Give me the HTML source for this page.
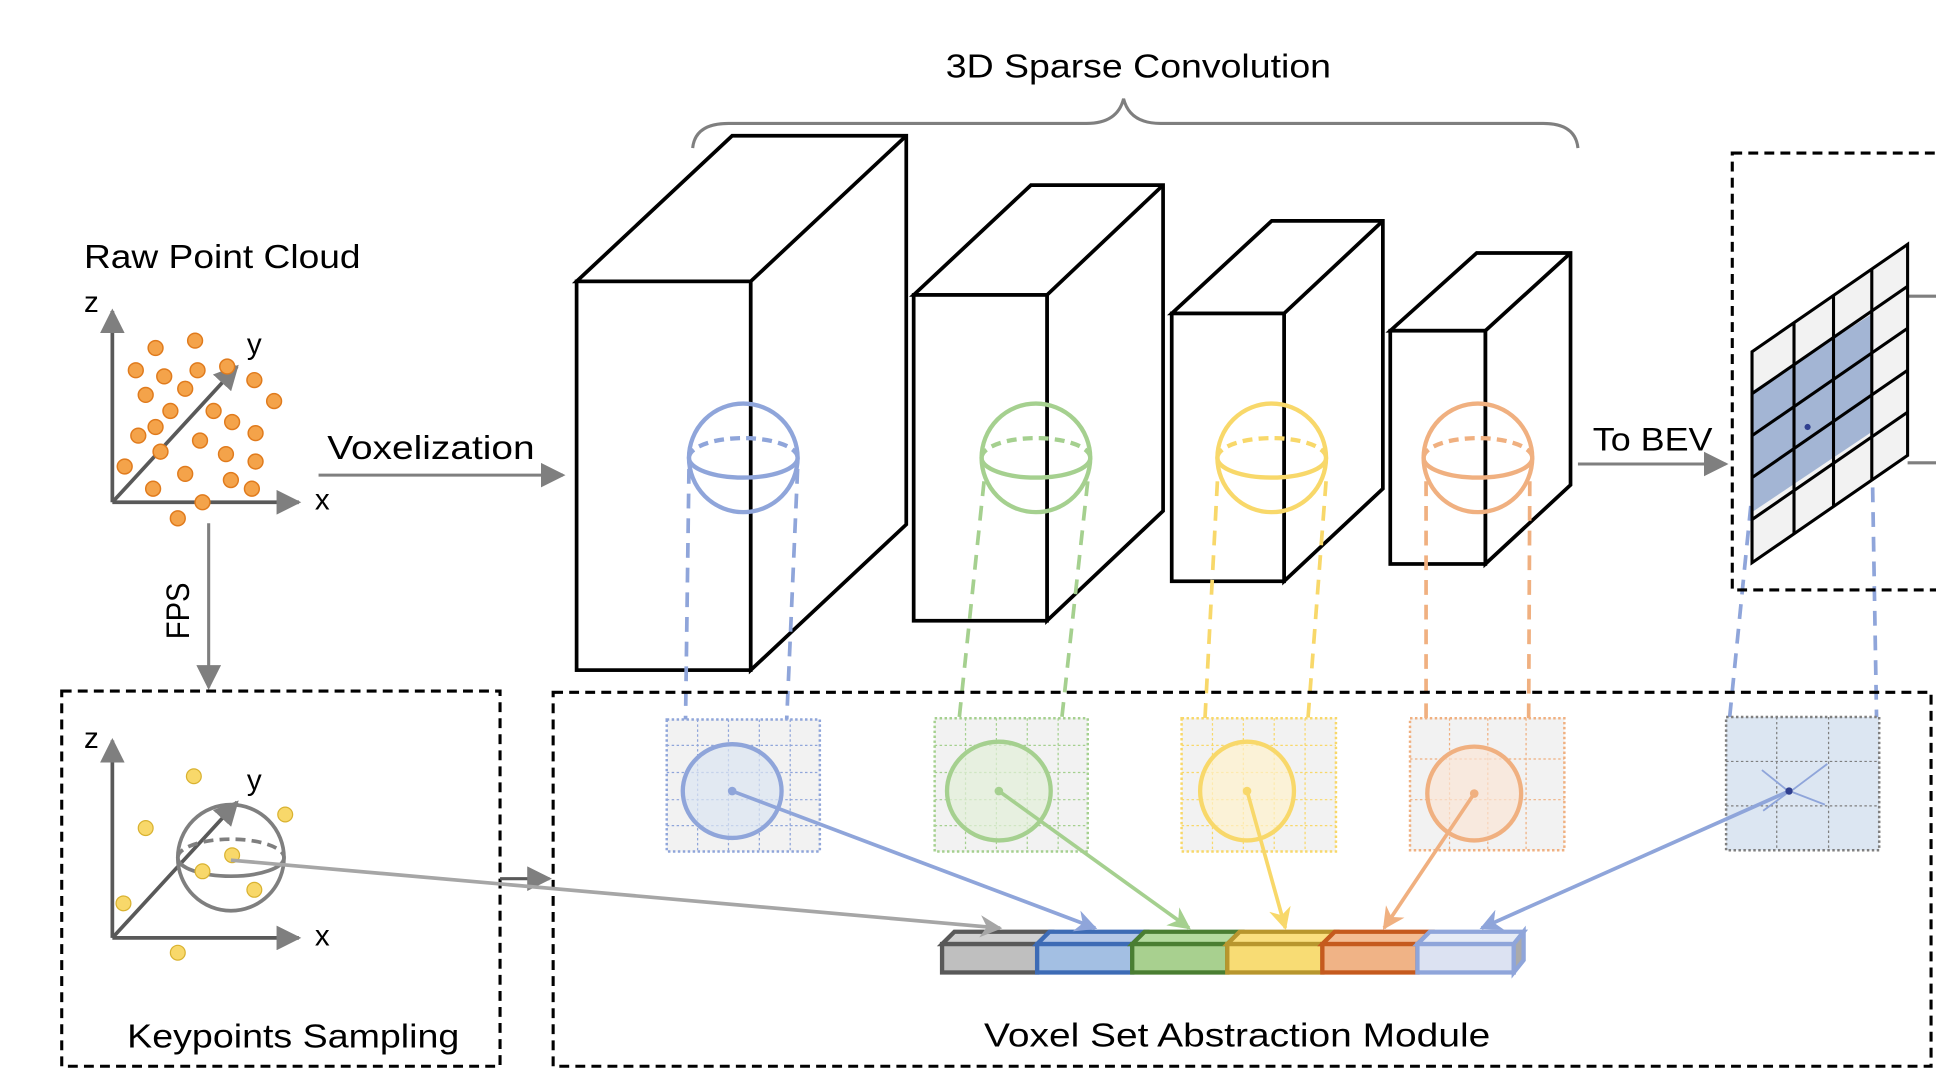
<!DOCTYPE html>
<html><head><meta charset="utf-8"><style>html,body{margin:0;padding:0;background:#fff;width:1936px;height:1086px;overflow:hidden}svg{display:block}text{font-family:"Liberation Sans","DejaVu Sans",sans-serif;fill:#000}</style></head><body>
<svg width="1936" height="1086" viewBox="0 0 1568 880" preserveAspectRatio="none">
<defs>
<marker id="ab" viewBox="0 0 10 10" markerWidth="18" markerHeight="18" refX="9" refY="5" orient="auto" markerUnits="userSpaceOnUse"><path d="M0,0 L10,5 L0,10 L3,5Z" fill="#8fa5da"/></marker>
<marker id="agr" viewBox="0 0 10 10" markerWidth="18" markerHeight="18" refX="9" refY="5" orient="auto" markerUnits="userSpaceOnUse"><path d="M0,0 L10,5 L0,10 L3,5Z" fill="#a5d08f"/></marker>
<marker id="ay" viewBox="0 0 10 10" markerWidth="18" markerHeight="18" refX="9" refY="5" orient="auto" markerUnits="userSpaceOnUse"><path d="M0,0 L10,5 L0,10 L3,5Z" fill="#f8d86a"/></marker>
<marker id="ao" viewBox="0 0 10 10" markerWidth="18" markerHeight="18" refX="9" refY="5" orient="auto" markerUnits="userSpaceOnUse"><path d="M0,0 L10,5 L0,10 L3,5Z" fill="#f0b080"/></marker>
<marker id="agy" viewBox="0 0 10 10" markerWidth="18" markerHeight="18" refX="9" refY="5" orient="auto" markerUnits="userSpaceOnUse"><path d="M0,0 L10,5 L0,10 L3,5Z" fill="#a6a6a6"/></marker>
<marker id="ak" viewBox="0 0 10 10" markerWidth="20" markerHeight="20" refX="9" refY="5" orient="auto" markerUnits="userSpaceOnUse"><path d="M0,0 L10,5 L0,10 Z" fill="#7f7f7f"/></marker>
</defs>

<text x="766" y="63" font-size="27" textLength="312" lengthAdjust="spacingAndGlyphs">3D Sparse Convolution</text>
<path d="M561,120 Q563,100 590,100 L880,100 Q905,100 910,80 Q915,100 940,100 L1250,100 Q1276,100 1278,120" fill="none" stroke="#7f7f7f" stroke-width="2.5"/>

<text x="68" y="217" font-size="27" textLength="224" lengthAdjust="spacingAndGlyphs">Raw Point Cloud</text>
<g stroke="#595959" stroke-width="3" fill="none">
<line x1="91" y1="407" x2="91" y2="252" marker-end="url(#ak)"/>
<line x1="91" y1="407" x2="242" y2="407" marker-end="url(#ak)"/>
<line x1="91" y1="407" x2="192" y2="297" marker-end="url(#ak)"/>
</g>
<text x="68" y="253" font-size="24">z</text><text x="200" y="287" font-size="24">y</text><text x="255" y="413" font-size="24">x</text>
<g fill="#f4a34a" stroke="#e07b1d" stroke-width="1.2">
<circle cx="126" cy="282" r="6"/><circle cx="158" cy="276" r="6"/><circle cx="110" cy="300" r="6"/><circle cx="133" cy="305" r="6"/><circle cx="160" cy="300" r="6"/><circle cx="184" cy="297" r="6"/><circle cx="118" cy="320" r="6"/><circle cx="150" cy="315" r="6"/><circle cx="206" cy="308" r="6"/><circle cx="222" cy="325" r="6"/><circle cx="138" cy="333" r="6"/><circle cx="173" cy="333" r="6"/><circle cx="126" cy="346" r="6"/><circle cx="188" cy="342" r="6"/><circle cx="112" cy="353" r="6"/><circle cx="207" cy="351" r="6"/><circle cx="162" cy="357" r="6"/><circle cx="130" cy="366" r="6"/><circle cx="183" cy="368" r="6"/><circle cx="101" cy="378" r="6"/><circle cx="207" cy="374" r="6"/><circle cx="150" cy="384" r="6"/><circle cx="187" cy="389" r="6"/><circle cx="124" cy="396" r="6"/><circle cx="204" cy="396" r="6"/><circle cx="164" cy="407" r="6"/><circle cx="144" cy="420" r="6"/>
</g>
<text x="265" y="372" font-size="27" textLength="168" lengthAdjust="spacingAndGlyphs">Voxelization</text>
<line x1="258" y1="385" x2="456" y2="385" stroke="#7f7f7f" stroke-width="2.5" marker-end="url(#ak)"/>
<line x1="169" y1="424" x2="169" y2="557" stroke="#7f7f7f" stroke-width="2.5" marker-end="url(#ak)"/>
<text x="0" y="0" font-size="26" textLength="46" lengthAdjust="spacingAndGlyphs" transform="translate(153,518) rotate(-90)">FPS</text>

<g fill="#fff" stroke="#000" stroke-width="3" stroke-linejoin="miter">
<path d="M467,228 L593,110 L734,110 L734,425 L608,543 L608,228Z"/><line x1="608" y1="228" x2="734" y2="110"/><rect x="467" y="228" width="141" height="315"/>
<path d="M740,239 L835,150 L942,150 L942,414 L848,503 L848,239Z"/><line x1="848" y1="239" x2="942" y2="150"/><rect x="740" y="239" width="108" height="264"/>
<path d="M949,254 L1030,179 L1120,179 L1120,396 L1040,471 L1040,254Z"/><line x1="1040" y1="254" x2="1120" y2="179"/><rect x="949" y="254" width="91" height="217"/>
<path d="M1126,268 L1196,205 L1272,205 L1272,393 L1203,457 L1203,268Z"/><line x1="1203" y1="268" x2="1272" y2="205"/><rect x="1126" y="268" width="77" height="189"/>
</g>
<g fill="none" stroke-width="3.5">
<g stroke="#8fa5da"><circle cx="602" cy="371" r="44"/><path d="M558,371 A44,16 0 0 0 646,371"/><path d="M558,371 A44,16 0 0 1 646,371" stroke-dasharray="8,5"/></g>
<g stroke="#a5d08f"><circle cx="839" cy="371" r="44"/><path d="M795,371 A44,16 0 0 0 883,371"/><path d="M795,371 A44,16 0 0 1 883,371" stroke-dasharray="8,5"/></g>
<g stroke="#f8d86a"><circle cx="1030" cy="371" r="44"/><path d="M986,371 A44,16 0 0 0 1074,371"/><path d="M986,371 A44,16 0 0 1 1074,371" stroke-dasharray="8,5"/></g>
<g stroke="#f0b080"><circle cx="1197" cy="371" r="44"/><path d="M1153,371 A44,16 0 0 0 1241,371"/><path d="M1153,371 A44,16 0 0 1 1241,371" stroke-dasharray="8,5"/></g>
</g>
<g stroke-width="3" stroke-dasharray="12,8" fill="none">
<line x1="558" y1="380" x2="555" y2="600" stroke="#8fa5da"/><line x1="646" y1="380" x2="636" y2="610" stroke="#8fa5da"/>
<line x1="797" y1="390" x2="775" y2="600" stroke="#a5d08f"/><line x1="881" y1="390" x2="858" y2="600" stroke="#a5d08f"/>
<line x1="986" y1="390" x2="975" y2="600" stroke="#f8d86a"/><line x1="1074" y1="390" x2="1058" y2="600" stroke="#f8d86a"/>
<line x1="1155" y1="390" x2="1155" y2="600" stroke="#f0b080"/><line x1="1239" y1="390" x2="1238" y2="600" stroke="#f0b080"/>
<line x1="1418" y1="410" x2="1400" y2="590" stroke="#8fa5da"/><line x1="1516" y1="355" x2="1520" y2="590" stroke="#8fa5da"/>
</g>

<text x="1290" y="365" font-size="26" textLength="97" lengthAdjust="spacingAndGlyphs">To BEV</text>
<line x1="1278" y1="376" x2="1398" y2="376" stroke="#7f7f7f" stroke-width="2.5" marker-end="url(#ak)"/>

<rect x="1403" y="124" width="180" height="354" fill="none" stroke="#000" stroke-width="2.5" stroke-dasharray="8,5"/>
<line x1="1545" y1="240" x2="1568" y2="240" stroke="#7f7f7f" stroke-width="2.5"/><line x1="1545" y1="375" x2="1568" y2="375" stroke="#7f7f7f" stroke-width="2.5"/>
<path d="M1419,285 L1545,198 L1545,369 L1419,456Z" fill="#f2f2f2"/>
<path d="M1419,317 L1515,255 L1516,350 L1419,415Z" fill="#9aaed0" opacity="0.9"/>
<g stroke="#000" stroke-width="2.5" fill="none"><path d="M1419,285 L1545,198 L1545,369 L1419,456Z"/>
<line x1="1453" y1="262" x2="1453" y2="432"/><line x1="1485" y1="240" x2="1485" y2="410"/><line x1="1516" y1="218" x2="1516" y2="389"/>
<line x1="1419" y1="319" x2="1545" y2="232"/><line x1="1419" y1="353" x2="1545" y2="266"/><line x1="1419" y1="387" x2="1545" y2="300"/><line x1="1419" y1="421" x2="1545" y2="334"/></g>
<circle cx="1464" cy="346" r="2.5" fill="#2f3f8f"/>

<rect x="50" y="560" width="355" height="304" fill="none" stroke="#000" stroke-width="2.5" stroke-dasharray="8,5"/>
<g stroke="#595959" stroke-width="3" fill="none">
<line x1="91" y1="760" x2="91" y2="600" marker-end="url(#ak)"/>
<line x1="91" y1="760" x2="242" y2="760" marker-end="url(#ak)"/>
<line x1="91" y1="760" x2="192" y2="650" marker-end="url(#ak)"/>
</g>
<text x="68" y="606" font-size="24">z</text><text x="200" y="640" font-size="24">y</text><text x="255" y="766" font-size="24">x</text>
<g fill="none" stroke="#7f7f7f" stroke-width="3"><circle cx="187" cy="695" r="43"/><path d="M144,695 A43,15 0 0 0 230,695"/><path d="M144,695 A43,15 0 0 1 230,695" stroke-dasharray="8,5"/></g>
<g fill="#f8d86a" stroke="#d9b230" stroke-width="1"><circle cx="157" cy="629" r="6"/><circle cx="231" cy="660" r="6"/><circle cx="118" cy="671" r="6"/><circle cx="188" cy="693" r="6"/><circle cx="164" cy="706" r="6"/><circle cx="206" cy="721" r="6"/><circle cx="100" cy="732" r="6"/><circle cx="144" cy="772" r="6"/></g>
<text x="103" y="849" font-size="27" textLength="269" lengthAdjust="spacingAndGlyphs">Keypoints Sampling</text>
<line x1="405" y1="712" x2="445" y2="712" stroke="#595959" stroke-width="2.5" marker-end="url(#ak)"/>

<rect x="448" y="561" width="1116" height="303" fill="none" stroke="#000" stroke-width="2.5" stroke-dasharray="8,5"/>
<text x="797" y="848" font-size="27" textLength="410" lengthAdjust="spacingAndGlyphs">Voxel Set Abstraction Module</text>

<g stroke-width="2" stroke-dasharray="2,2">
<rect x="540" y="583" width="124" height="107" fill="#f2f2f2" stroke="#8fa5da"/>
<rect x="757" y="582" width="124" height="108" fill="#f2f2f2" stroke="#a5d08f"/>
<rect x="957" y="582" width="125" height="108" fill="#f2f2f2" stroke="#f8d86a"/>
<rect x="1142" y="582" width="125" height="107" fill="#f2f2f2" stroke="#f0b080"/>
<rect x="1398" y="581" width="124" height="108" fill="#dce6f2" stroke="#7f7f7f"/>
</g>
<g stroke-width="1" stroke-dasharray="2,2" fill="none">
<path d="M540,604H664M540,626H664M540,648H664M540,669H664M565,583V690M590,583V690M615,583V690M640,583V690" stroke="#8fa5da"/>
<path d="M757,604H881M757,626H881M757,648H881M757,669H881M782,582V690M807,582V690M832,582V690M857,582V690" stroke="#a5d08f"/>
<path d="M957,604H1082M957,626H1082M957,648H1082M957,669H1082M982,582V690M1007,582V690M1032,582V690M1057,582V690" stroke="#f8d86a"/>
<path d="M1142,615H1267M1142,648H1267M1174,582V689M1205,582V689M1236,582V689" stroke="#f0b080"/>
<path d="M1398,617H1522M1398,653H1522M1439,581V689M1481,581V689" stroke="#7f7f7f"/>
</g>
<g stroke-width="3.5">
<ellipse cx="593" cy="641" rx="40" ry="38" fill="#dce6f2" fill-opacity="0.7" stroke="#8fa5da"/>
<ellipse cx="809" cy="641" rx="42" ry="40" fill="#e2f0d9" fill-opacity="0.7" stroke="#a5d08f"/>
<ellipse cx="1010" cy="641" rx="38" ry="40" fill="#fff2cc" fill-opacity="0.7" stroke="#f8d86a"/>
<ellipse cx="1194" cy="643" rx="38" ry="38" fill="#fbe5d6" fill-opacity="0.7" stroke="#f0b080"/>
</g>
<g stroke="#8fa5da" stroke-width="1.5"><line x1="1427" y1="624" x2="1447" y2="640"/><line x1="1480" y1="619" x2="1452" y2="640"/><line x1="1478" y1="652" x2="1452" y2="642"/><line x1="1428" y1="657" x2="1447" y2="643"/></g>

<g stroke-width="3.5">
<path d="M763,765 L773,755 L850,755 L840,765Z" fill="#d0d0d0" stroke="#595959"/><rect x="763" y="765" width="77" height="23" fill="#bfbfbf" stroke="#595959"/>
<path d="M840,765 L850,755 L927,755 L917,765Z" fill="#b4c7e7" stroke="#3d6bb5"/><rect x="840" y="765" width="77" height="23" fill="#a3bfe3" stroke="#3d6bb5"/>
<path d="M917,765 L927,755 L1004,755 L994,765Z" fill="#b5dba0" stroke="#4a7e32"/><rect x="917" y="765" width="77" height="23" fill="#a8d08f" stroke="#4a7e32"/>
<path d="M994,765 L1004,755 L1081,755 L1071,765Z" fill="#fadf80" stroke="#b8962e"/><rect x="994" y="765" width="77" height="23" fill="#f8dc74" stroke="#b8962e"/>
<path d="M1071,765 L1081,755 L1158,755 L1148,765Z" fill="#f4bd94" stroke="#c55a1e"/><rect x="1071" y="765" width="77" height="23" fill="#f0b386" stroke="#c55a1e"/>
<path d="M1148,765 L1158,755 L1234,755 L1226,765Z" fill="#e6ebf6" stroke="#8fa5da"/><rect x="1148" y="765" width="78" height="23" fill="#dce2f2" stroke="#8fa5da"/>
<path d="M1226,765 L1234,755 L1234,778 L1226,788Z" fill="#aaaaaa" stroke="#8fa5da"/>
</g>

<g stroke-width="3" fill="none">
<line x1="187" y1="697" x2="810" y2="752" stroke="#a6a6a6" marker-end="url(#agy)"/>
<line x1="593" y1="641" x2="887" y2="752" stroke="#8fa5da" marker-end="url(#ab)"/>
<line x1="809" y1="641" x2="963" y2="752" stroke="#a5d08f" marker-end="url(#agr)"/>
<line x1="1010" y1="641" x2="1041" y2="752" stroke="#f8d86a" marker-end="url(#ay)"/>
<line x1="1194" y1="643" x2="1121" y2="752" stroke="#f0b080" marker-end="url(#ao)"/>
<line x1="1449" y1="641" x2="1200" y2="752" stroke="#8fa5da" marker-end="url(#ab)"/>
</g>
<circle cx="593" cy="641" r="3.5" fill="#8fa5da"/><circle cx="809" cy="641" r="3.5" fill="#a5d08f"/><circle cx="1010" cy="641" r="3.5" fill="#f8d86a"/><circle cx="1194" cy="643" r="3.5" fill="#f0b080"/><circle cx="1449" cy="641" r="3" fill="#2f3f8f"/>
</svg>
</body></html>
